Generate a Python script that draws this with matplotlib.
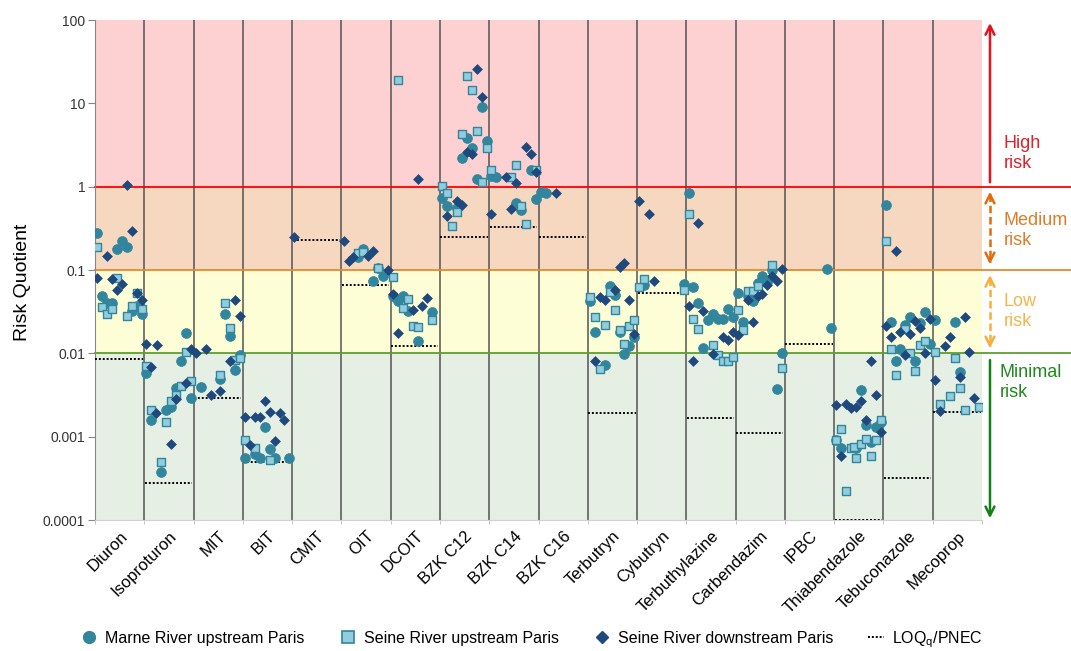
import matplotlib
matplotlib.use('Agg')
import matplotlib.pyplot as plt
from matplotlib.lines import Line2D
import matplotlib.ticker as mticker

plt.rcParams['font.family'] = ['Liberation Sans', 'DejaVu Sans']

# Compounds on the x axis
compounds = ['Diuron', 'Isoproturon', 'MIT', 'BIT', 'CMIT', 'OIT', 'DCOIT', 'BZK C12',
             'BZK C14', 'BZK C16', 'Terbutryn', 'Cybutryn', 'Terbuthylazine', 'Carbendazim',
             'IPBC', 'Thiabendazole', 'Tebuconazole', 'Mecoprop']

# LOQ / PNEC per compound
loq_pnec = [0.0085, 0.00028, 0.0029, 0.00049, 0.23, 0.066, 0.0123, 0.25,
            0.33, 0.25, 0.0019, 0.053, 0.00166, 0.0011, 0.013, 0.0001, 0.00032, 0.00195]

# Risk quotients per sampling campaign (1-10): (campaign, RQ)
marne = {
    'Diuron': [(1, .275), (2, .049), (3, .040), (4, .040), (5, .18), (6, .22), (7, .19), (8, .032), (9, .037), (10, .030)],
    'Isoproturon': [(1, .0058), (2, .0016), (4, .00038), (5, .0021), (6, .0023), (7, .0038), (8, .0080), (9, .0175), (10, .0029)],
    'MIT': [(2, .0039), (6, .0049), (7, .030), (8, .016), (9, .0063), (10, .0095)],
    'BIT': [(1, .00056), (3, .00062), (4, .00056), (5, .0013), (6, .00072), (7, .00056), (10, .00056)],
    'OIT': [(4, .145), (5, .18), (7, .074), (8, .107), (9, .085)],
    'DCOIT': [(1, .049), (2, .043), (3, .049), (4, .032), (6, .0142), (9, .031)],
    'BZK C12': [(1, .74), (2, .58), (4, .55), (5, 2.2), (6, 3.8), (7, 2.9), (8, 1.25), (9, 9.1), (10, 3.5)],
    'BZK C14': [(1, 1.35), (2, 1.3), (6, .63), (7, .52), (9, 1.6), (10, .72)],
    'BZK C16': [(1, .87), (2, .83)],
    'Terbutryn': [(1, .042), (2, .018), (4, .0073), (5, .064), (6, .050), (7, .0178), (8, .0098), (9, .0123), (10, .0155)],
    'Cybutryn': [(2, .066), (10, .068)],
    'Terbuthylazine': [(1, .85), (2, .062), (3, .040), (4, .0117), (5, .025), (6, .030), (7, .026), (8, .026), (9, .034), (10, .027)],
    'Carbendazim': [(1, .053), (2, .024), (3, .049), (4, .043), (5, .069), (6, .085), (7, .071), (8, .10), (9, .0037), (10, .0102)],
    'IPBC': [(9, .103), (10, .020)],
    'Thiabendazole': [(1, .00091), (2, .00074), (5, .00074), (6, .0036), (7, .00138), (8, .00087), (9, .00129), (10, .0015)],
    'Tebuconazole': [(1, .61), (2, .024), (3, .0081), (4, .0114), (5, .022), (6, .027), (7, .0081), (8, .023), (9, .031), (10, .013)],
    'Mecoprop': [(1, .025), (5, .024), (6, .0060)],
}

seine_up = {
    'Diuron': [(1, .19), (2, .036), (3, .030), (4, .034), (5, .081), (7, .028), (8, .037), (9, .053), (10, .034)],
    'Isoproturon': [(1, .0070), (2, .0021), (4, .00049), (5, .0015), (6, .0027), (7, .0032), (8, .0040), (9, .0104), (10, .0047)],
    'MIT': [(6, .0055), (7, .040), (8, .020), (9, .0083), (10, .0088)],
    'BIT': [(1, .00090), (3, .00074), (6, .00053)],
    'OIT': [(4, .16), (5, .165), (8, .105)],
    'DCOIT': [(1, .083), (2, 19), (3, .035), (4, .045), (5, .021), (6, .0205), (9, .025)],
    'BZK C12': [(1, 1.03), (2, .85), (3, .34), (4, .49), (5, 4.3), (6, 21.5), (7, 14.5), (8, 4.6), (9, 1.15), (10, 2.9)],
    'BZK C14': [(1, 1.6), (5, 1.3), (6, 1.8), (7, .59), (8, .36), (10, 1.6)],
    'Terbutryn': [(1, .048), (2, .027), (3, .0065), (4, .022), (5, .055), (6, .033), (7, .019), (8, .0128), (9, .021), (10, .025)],
    'Cybutryn': [(1, .062), (2, .079), (10, .058)],
    'Terbuthylazine': [(1, .47), (2, .026), (3, .0195), (6, .0126), (7, .0096), (8, .0081), (9, .0081), (10, .0091)],
    'Carbendazim': [(1, .033), (2, .019), (3, .056), (4, .056), (5, .064), (8, .115), (10, .0066)],
    'Thiabendazole': [(1, .00092), (2, .00123), (3, .00022), (4, .00073), (4.6, .00075), (5, .00056), (6, .00081), (7, .00093), (8, .00059), (9, .00090), (10, .0016)],
    'Tebuconazole': [(1, .22), (2, .0112), (3, .0055), (5, .0195), (6, .0102), (7, .0062), (8, .0126), (9, .0142)],
    'Mecoprop': [(1, .0104), (2, .0025), (4, .0031), (5, .0089), (6, .0038), (7, .0021), (10, .0023)],
}

seine_down = {
    'Diuron': [(1, .081), (3, .148), (4, .078), (5, .058), (6, .068), (7, 1.05), (8, .29), (9, .053), (10, .044)],
    'Isoproturon': [(1, .0128), (2, .0068), (3, .0019), (3.1, .0126), (6, .00081), (7, .0028), (9, .0044), (10, .0112)],
    'MIT': [(1, .010), (3, .0112), (4, .0032), (6, .0035), (8, .0082), (9, .044), (10, .028)],
    'BIT': [(1, .0017), (2, .00079), (3, .0017), (4, .0017), (6, .0020), (5, .0027), (7, .00088), (8, .0019), (9, .0016)],
    'CMIT': [(1, .246)],
    'OIT': [(1, .225), (2, .13), (3, .145), (6, .148), (7, .17), (10, .10)],
    'DCOIT': [(1, .051), (2, .0174), (5, .033), (6, 1.23), (7, .037), (8, .046)],
    'BZK C12': [(2, .44), (4, .68), (5, .60), (6, 2.6), (7, 2.45), (8, 25.7), (9, 11.8)],
    'BZK C14': [(1, .47), (4, 1.3), (5, .54), (6, 1.12), (8, 3.0), (9, 2.5), (10, 1.5)],
    'BZK C16': [(4, .85)],
    'Terbutryn': [(2, .0082), (3, .047), (4, .044), (6, .058), (7, .11), (8, .12), (9, .044), (10, .017)],
    'Cybutryn': [(1, .68), (3, .47), (4, .073)],
    'Terbuthylazine': [(1, .037), (2, .0081), (3, .37), (4, .032), (6, .0099), (8, .0155), (9, .0145), (10, .0178)],
    'Carbendazim': [(1, .0166), (3, .044), (4, .024), (5, .049), (6, .051), (7, .066), (8, .085), (9, .073), (10, .102)],
    'Thiabendazole': [(1, .0024), (2, .00059), (3, .0025), (4, .0022), (5, .0023), (6, .0027), (7, .0016), (8, .0081), (9, .0032), (10, .00115)],
    'Tebuconazole': [(1, .021), (2, .0155), (3, .17), (4, .0181), (5, .0095), (6, .017), (7, .0245), (8, .020), (9, .0102), (10, .026)],
    'Mecoprop': [(1, .0048), (2, .00205), (3, .0121), (4, .0158), (6, .0052), (7, .027), (8, .0105), (9, .0029)],
}

# risk class bands: (low bound, high bound, colour)
bands = [(1, 100, '#FDD1D1'), (0.1, 1, '#F6D8C1'), (0.01, 0.1, '#FEFED6'), (0.0001, 0.01, '#E5EFE3')]

c_marne = '#31859C'
c_seine_fill = '#93CDDD'
c_seine_edge = '#31859C'
c_down = '#1F497D'


def xpos(i, k):
    return i + (k - 1) * 0.1 + 0.045


fig = plt.figure(figsize=(10.71, 6.51), dpi=100)
ax = fig.add_axes([95 / 1071, 1 - 520 / 651, 887 / 1071, 500 / 651])
n = len(compounds)
ax.set_yscale('log')
ax.set_ylim(0.0001, 100)
ax.set_xlim(0, n)

for lo, hi, col in bands:
    ax.axhspan(lo, hi, color=col, zorder=0, lw=0)

for i in range(1, n):
    ax.axvline(i, color='#4a4a4a', lw=1.3, alpha=0.8, zorder=1)

# thresholds extend past the plot to the right margin
for val, col in [(1, '#FF0000'), (0.1, '#E8892F'), (0.01, '#5E9E2E')]:
    ax.plot([0, 1.1], [val, val], color=col, lw=1.3, transform=ax.get_yaxis_transform(),
            clip_on=False, zorder=2)

for i, v in enumerate(loq_pnec):
    ax.plot([i + 0.01, i + 0.97], [v, v], color='black', lw=1.4, ls=(0, (1, 1)), zorder=3)

for data, kw in [(marne, dict(marker='o', s=50, color=c_marne, edgecolors=c_marne, linewidths=0.5)),
                 (seine_up, dict(marker='s', s=36, color=c_seine_fill, edgecolors=c_seine_edge, linewidths=1.0)),
                 (seine_down, dict(marker='D', s=25, color=c_down, edgecolors=c_down, linewidths=0.5))]:
    xs, ys = [], []
    for name, pts in data.items():
        i = compounds.index(name)
        for k, v in pts:
            xs.append(xpos(i, k))
            ys.append(v)
    ax.scatter(xs, ys, zorder=4, **kw)

ax.set_xticks([i + 0.5 for i in range(n)])
ax.set_xticklabels(compounds, rotation=45, ha='right', rotation_mode='anchor', fontsize=12)
ax.tick_params(axis='x', length=0, pad=6)
ax.set_xticks(range(n + 1), minor=True)
ax.tick_params(axis='x', which='minor', length=3, color='#bbbbbb')

ax.set_yticks([0.0001, 0.001, 0.01, 0.1, 1, 10, 100])
ax.yaxis.set_major_formatter(mticker.FixedFormatter(['0.0001', '0.001', '0.01', '0.1', '1', '10', '100']))
ax.yaxis.set_minor_locator(mticker.NullLocator())
ax.tick_params(axis='y', labelsize=10, length=5, color='#888888', pad=2, labelcolor='#333333')
ax.set_ylabel('Risk Quotient', fontsize=14)
ax.yaxis.set_label_coords(-0.072, 0.475)

for s in ['top', 'right']:
    ax.spines[s].set_visible(False)
ax.spines['left'].set_color('#888888')
ax.spines['bottom'].set_color('#d0d0d0')

# risk class arrows and labels on the right
tr = ax.get_yaxis_transform()
ax_x = 1.009
ax.annotate('', xy=(ax_x, 92), xytext=(ax_x, 1.13), xycoords=tr, textcoords=tr,
            arrowprops=dict(arrowstyle='->', color='#E8101A', lw=1.8, shrinkA=0, shrinkB=0,
                            mutation_scale=16))
ax.annotate('', xy=(ax_x, 0.000105), xytext=(ax_x, 0.0083), xycoords=tr, textcoords=tr,
            arrowprops=dict(arrowstyle='->', color='#128012', lw=1.8, shrinkA=0, shrinkB=0,
                            mutation_scale=16))
for top, bot, col in [(0.87, 0.117, '#E36C0A'), (0.087, 0.0115, '#F7AE3A')]:
    ax.plot([ax_x, ax_x], [top * 0.93, bot * 1.07], color=col, lw=1.8, ls=(0, (3, 1.5)),
            transform=tr, clip_on=False)
    ax.annotate('', xy=(ax_x, top), xytext=(ax_x, top * 0.85), xycoords=tr, textcoords=tr,
                arrowprops=dict(arrowstyle='->', color=col, lw=1.8, shrinkA=0, shrinkB=0,
                                mutation_scale=16))
    ax.annotate('', xy=(ax_x, bot), xytext=(ax_x, bot * 1.18), xycoords=tr, textcoords=tr,
                arrowprops=dict(arrowstyle='->', color=col, lw=1.8, shrinkA=0, shrinkB=0,
                                mutation_scale=16))

for y, txt, col, xx in [(2.5, 'High\nrisk', '#E0202A', 1.024), (0.30, 'Medium\nrisk', '#E07B28', 1.024),
                        (0.032, 'Low\nrisk', '#F6B54C', 1.024), (0.0045, 'Minimal\nrisk', '#1E8A1E', 1.02)]:
    ax.text(xx, y, txt, transform=tr, color=col, fontsize=13, va='center', ha='left',
            linespacing=1.2, clip_on=False)

handles = [
    Line2D([], [], ls='none', marker='o', ms=8.5, color=c_marne, label='Marne River upstream Paris'),
    Line2D([], [], ls='none', marker='s', ms=8, mfc=c_seine_fill, mec=c_seine_edge, mew=1.2,
           label='Seine River upstream Paris'),
    Line2D([], [], ls='none', marker='D', ms=6.5, color=c_down, label='Seine River downstream Paris'),
    Line2D([], [], color='black', lw=1.4, ls=(0, (1, 1)), label='$\\mathregular{LOQ_q/PNEC}$'),
]
fig.legend(handles=handles, loc='center', bbox_to_anchor=(0.497, 0.018), ncol=4, frameon=False,
           fontsize=11.5, columnspacing=2.2, handlelength=1.0, handletextpad=0.5)

fig.savefig('out.png', dpi=100)
